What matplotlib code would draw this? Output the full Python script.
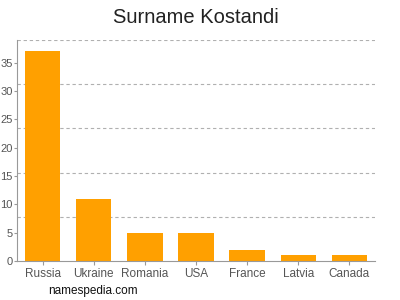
import matplotlib
matplotlib.use("Agg")
import matplotlib.pyplot as plt
import numpy as np

categories = ["Russia", "Ukraine", "Romania", "USA", "France", "Latvia", "Canada"]
values = [37, 11, 5, 5, 2, 1, 1]
yticks = [0, 5, 10, 15, 20, 25, 30, 35]
ymax = 39
grid_vals = [7.8, 15.6, 23.4, 31.2, 39]

plt.rcParams['font.family'] = ['Liberation Sans', 'DejaVu Sans']

fig = plt.figure(figsize=(4, 3), dpi=100)
ax = fig.add_axes([0.0425, 0.13, 0.895, 0.7367])

x = np.arange(len(categories))
ax.bar(x, values, width=0.69, color="#FFA000", zorder=2)

for g in grid_vals:
    ax.axhline(g, color="#b0b0b0", linestyle=(0, (3, 2.5)), linewidth=0.8, zorder=1)

ax.set_xlim(-0.5, len(categories) - 0.5)
ax.set_ylim(0, ymax)
ax.set_xticks(x)
ax.set_xticklabels(categories)
ax.set_yticks(yticks)

for s in ["top", "right"]:
    ax.spines[s].set_visible(False)
for s in ["left", "bottom"]:
    ax.spines[s].set_color("#999999")
    ax.spines[s].set_linewidth(0.8)

ax.tick_params(axis="both", colors="#999999", labelcolor="#555555", width=0.8)
ax.tick_params(axis="x", pad=2, labelsize=8.5, length=3)
ax.tick_params(axis="y", pad=1, labelsize=8, length=2)

ax.set_title("Surname Kostandi", fontsize=14.5, color="#222222", pad=12)
fig.text(0.12, 0.03, "namespedia.com", fontsize=8.5, color="#111111", ha="left", va="center")

fig.savefig("out.png", dpi=100)
